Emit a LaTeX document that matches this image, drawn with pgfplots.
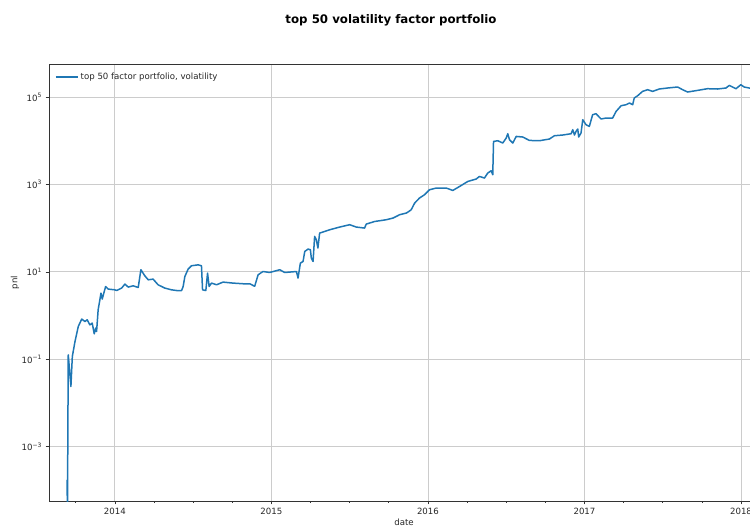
\documentclass[border=0pt]{standalone}
\usepackage{pgfplots}
\pgfplotsset{compat=1.18}
\usepackage{fontspec}
\setmainfont{DejaVu Sans}
\definecolor{mplblue}{HTML}{1F77B4}
\definecolor{gridgray}{HTML}{CCCCCC}

% cumulative pnl of the top-50 volatility factor portfolio (date as decimal year)
\pgfplotstableread{
date pnl
2013.694 1.75e-4
2013.697 3.6e-5
2013.702 0.127
2013.719 0.0239
2013.728 0.116
2013.745 0.255
2013.766 0.563
2013.788 0.832
2013.809 0.733
2013.823 0.802
2013.840 0.615
2013.855 0.673
2013.868 0.384
2013.877 0.518
2013.883 0.433
2013.893 1.36
2013.904 2.30
2013.911 3.27
2013.919 2.39
2013.932 3.56
2013.941 4.63
2013.957 4.04
2014.000 3.89
2014.011 3.75
2014.043 4.26
2014.064 5.26
2014.085 4.49
2014.117 4.81
2014.149 4.40
2014.166 11.2
2014.191 8.15
2014.213 6.59
2014.244 6.84
2014.276 5.07
2014.319 4.26
2014.362 3.89
2014.394 3.75
2014.426 3.75
2014.436 4.63
2014.447 7.85
2014.468 11.6
2014.489 13.8
2014.532 14.5
2014.553 13.8
2014.560 3.89
2014.581 3.75
2014.592 9.39
2014.602 4.63
2014.617 5.54
2014.649 5.07
2014.691 5.84
2014.755 5.54
2014.819 5.35
2014.862 5.35
2014.893 4.68
2014.915 8.59
2014.946 10.2
2014.989 9.69
2015.053 11.2
2015.085 9.69
2015.160 10.2
2015.170 7.21
2015.185 15.9
2015.202 17.3
2015.213 29.3
2015.234 33.3
2015.249 32.1
2015.255 20.7
2015.266 17.3
2015.276 64.6
2015.287 54.3
2015.297 35.1
2015.308 77.3
2015.340 84.0
2015.372 91.9
2015.436 106
2015.500 120
2015.542 106
2015.595 100.5
2015.606 124
2015.659 142
2015.734 156
2015.776 170
2015.819 203
2015.862 222
2015.878 241
2015.893 264
2015.915 375
2015.946 489
2015.978 581
2016.010 757
2016.053 828
2016.117 828
2016.159 729
2016.202 900
2016.255 1172
2016.308 1330
2016.329 1524
2016.361 1400
2016.382 1823
2016.404 2060
2016.414 1667
2016.419 9640
2016.446 10000
2016.478 8860
2016.500 11530
2016.510 14460
2016.521 10540
2016.542 8860
2016.564 12540
2016.606 12150
2016.648 10160
2016.712 10000
2016.776 10940
2016.808 13010
2016.861 13500
2016.915 14460
2016.925 17850
2016.936 13500
2016.946 16330
2016.957 18530
2016.963 12150
2016.978 15000
2016.989 30240
2017.010 23240
2017.031 21240
2017.052 39360
2017.074 41480
2017.106 31390
2017.138 33080
2017.180 33080
2017.202 46810
2017.234 63210
2017.266 66680
2017.287 72910
2017.308 66680
2017.318 94860
2017.340 107100
2017.371 134400
2017.403 146900
2017.435 134400
2017.478 152400
2017.531 160700
2017.595 169400
2017.627 146900
2017.659 130100
2017.722 141600
2017.786 154900
2017.850 152400
2017.904 160700
2017.925 184200
2017.968 154900
2017.999 191000
2018.020 169400
2018.052 160700
2018.084 160700
}\pnltable

\begin{document}
\begin{tikzpicture}[x=1pt,y=1pt]
\clip (0,0) rectangle (750,527);
\node[font=\fontsize{11.8}{14}\selectfont\bfseries] at (391,507) {top 50 volatility factor portfolio};
\begin{axis}[
  at={(49pt,26pt)}, anchor=south west,
  width=710pt, height=437pt, scale only axis,
  xmin=2013.579, xmax=2018.115,
  ymode=log, ymin=5.75e-5, ymax=5.69e5,
  xtick={2014,2015,2016,2017,2018},
  xticklabels={2014,2015,2016,2017,2018},
  minor xtick={2013.75,2014.25,2014.5,2014.75,2015.25,2015.5,2015.75,2016.25,2016.5,2016.75,2017.25,2017.5,2017.75},
  ytick={1e-3,1e-1,1e1,1e3,1e5},
  yticklabels={10\textsuperscript{−3},10\textsuperscript{−1},10\textsuperscript{1},10\textsuperscript{3},10\textsuperscript{5}},
  yminorticks=false,
  xtick pos=bottom, ytick pos=left,
  tick align=outside,
  major tick length=3.5pt, minor tick length=2pt,
  every tick/.style={black!80, line width=0.7pt},
  grid=major,
  major grid style={gridgray, line width=0.8pt},
  axis line style={black!80, line width=0.7pt},
  ticklabel style={font=\fontsize{8.6}{10}\selectfont, text=black!85},
  xlabel={date}, ylabel={pnl},
  every axis x label/.style={at={(axis description cs:0.5,0)}, anchor=center, yshift=-21pt, font=\fontsize{8.6}{10}\selectfont, text=black!85},
  every axis y label/.style={at={(axis description cs:-0.0479,0.5)}, rotate=90, anchor=center, font=\fontsize{8.6}{10}\selectfont, text=black!85},
  legend style={at={(axis description cs:0,1)}, anchor=north west, draw=none, fill=none,
    font=\fontsize{8.6}{10}\selectfont, text=black!85, xshift=3pt, yshift=-5pt},
  legend cell align=left,
  legend image code/.code={\path (0pt,0pt) -- (22pt,0pt);\draw[#1] (0pt,0pt) -- (18pt,0pt);},
]
\addplot[mplblue, line width=1.5pt, line join=round] table[x=date, y=pnl] {\pnltable};
\addlegendentry{top 50 factor portfolio, volatility}
\end{axis}
\end{tikzpicture}
\end{document}
